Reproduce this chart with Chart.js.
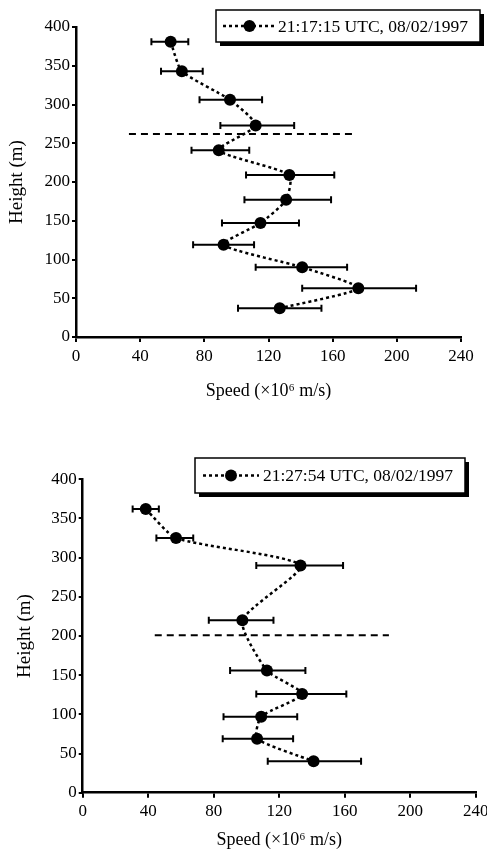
<!DOCTYPE html>
<html>
<head>
<meta charset="utf-8">
<script src="https://cdn.jsdelivr.net/npm/chart.js@4/dist/chart.umd.min.js"></script>
<style>
  html, body { margin: 0; padding: 0; background: #fff; }
  canvas { display: block; }
</style>
</head>
<body>
<canvas id="c1" width="487" height="426"></canvas>
<canvas id="c2" width="487" height="426"></canvas>
<script>
// ---------- DATA ----------
const yTickValues = [0, 50, 100, 150, 200, 250, 300, 350, 400];
const xTickValues = [0, 40, 80, 120, 160, 200, 240];
const legendLabels = ["21:17:15 UTC, 08/02/1997", "21:27:54 UTC, 08/02/1997"];
const xTitle = "Speed (\u00d710\u2076 m/s)";
const yTitle = "Height (m)";

// Chart 1 (21:17:15)
const heights1 = [381, 343, 306, 273, 241, 209, 177, 147, 119, 90, 63, 37];
const speeds1  = [59, 66, 96, 112, 89, 133, 131, 115, 92, 141, 176, 127];
const errLow1  = [47, 53, 77, 90, 72, 106, 105, 91, 73, 112, 141, 101];
const errHigh1 = [70, 79, 116, 136, 108, 161, 159, 139, 111, 169, 212, 153];
const refHeight1 = 262;
const refSpeeds1 = [33, 175];

// Chart 2 (21:27:54)
const heights2 = [362, 325, 290, 220, 156, 126, 97, 69, 40];
const speeds2  = [38.5, 57, 133, 97.5, 112.5, 134, 109, 106.5, 141];
const errLow2  = [30.5, 45, 106, 77, 90, 106, 86, 85.5, 113];
const errHigh2 = [46.5, 67.5, 159, 116.5, 136, 161, 131, 128.5, 170];
const refHeight2 = 201;
const refSpeeds2 = [44, 187];

// ---------- STYLE ----------
const FONT = '"Liberation Serif", "Times New Roman", serif';
Chart.defaults.color = '#000';
Chart.defaults.font.family = FONT;

const errorBarPlugin = {
  id: 'errorBars',
  beforeDatasetsDraw(chart, args, opts) {
    const xs = chart.scales.x, ys = chart.scales.y;
    const ctx = chart.ctx;
    ctx.save();
    ctx.strokeStyle = '#000';
    ctx.lineWidth = 2;
    ctx.setLineDash([]);
    opts.low.forEach((lo, i) => {
      const hi = opts.high[i];
      const y = ys.getPixelForValue(opts.y[i]);
      const x0 = xs.getPixelForValue(lo), x1 = xs.getPixelForValue(hi);
      ctx.beginPath();
      ctx.moveTo(x0, y); ctx.lineTo(x1, y);
      ctx.moveTo(x0, y - 3.5); ctx.lineTo(x0, y + 3.5);
      ctx.moveTo(x1, y - 3.5); ctx.lineTo(x1, y + 3.5);
      ctx.stroke();
    });
    ctx.restore();
  }
};

const boxLegendPlugin = {
  id: 'boxLegend',
  afterDraw(chart, args, o) {
    const ctx = chart.ctx;
    ctx.save();
    ctx.fillStyle = '#000';
    ctx.fillRect(o.x + 4, o.y + 4, o.w, o.h);
    ctx.fillStyle = '#fff';
    ctx.fillRect(o.x, o.y, o.w, o.h);
    ctx.strokeStyle = '#000';
    ctx.lineWidth = 1.5;
    ctx.strokeRect(o.x, o.y, o.w, o.h);
    const cy = o.y + o.h / 2;
    ctx.setLineDash([3, 3]);
    ctx.lineWidth = 2.5;
    ctx.beginPath();
    ctx.moveTo(o.lineX0, cy); ctx.lineTo(o.lineX1, cy);
    ctx.stroke();
    ctx.setLineDash([]);
    ctx.fillStyle = '#000';
    ctx.beginPath();
    ctx.arc((o.lineX0 + o.lineX1) / 2, cy, 6, 0, Math.PI * 2);
    ctx.fill();
    ctx.font = '17.5px ' + FONT;
    ctx.textBaseline = 'middle';
    ctx.textAlign = 'left';
    ctx.fillText(o.text, o.textX, cy + 1);
    ctx.restore();
  }
};

function makeChart(id, cfg) {
  return new Chart(document.getElementById(id), {
    type: 'scatter',
    data: {
      datasets: [
        {
          data: cfg.speeds.map((s, i) => ({ x: s, y: cfg.heights[i] })),
          showLine: true,
          tension: 0.2,
          borderColor: '#000',
          borderWidth: 2.5,
          borderDash: [3, 3],
          pointRadius: 6,
          pointBackgroundColor: '#000',
          pointBorderColor: '#000',
          pointBorderWidth: 0
        },
        {
          data: cfg.refSpeeds.map(s => ({ x: s, y: cfg.refHeight })),
          showLine: true,
          borderColor: '#000',
          borderWidth: 2,
          borderDash: [7, 5],
          pointRadius: 0
        }
      ]
    },
    options: {
      responsive: false,
      animation: false,
      events: [],
      layout: { padding: { left: 0, top: cfg.padTop, right: cfg.padRight, bottom: 0 } },
      plugins: {
        legend: { display: false },
        tooltip: { enabled: false },
        errorBars: { y: cfg.heights, low: cfg.low, high: cfg.high },
        boxLegend: cfg.legend
      },
      scales: {
        x: {
          type: 'linear',
          min: 0, max: 240,
          afterBuildTicks: s => { s.ticks = xTickValues.map(v => ({ value: v })); },
          afterFit: s => { s.height = cfg.xHeight; s.paddingLeft = 0; s.paddingRight = 0; },
          ticks: { font: { size: 17, family: FONT }, color: '#000', padding: 4, maxRotation: 0 },
          grid: { display: true, drawOnChartArea: false, drawTicks: true, tickLength: 5, color: '#000', lineWidth: 2 },
          border: { display: true, color: '#000', width: 2.5 },
          title: { display: true, text: xTitle, font: { size: 18, family: FONT }, color: '#000', padding: { top: 0, bottom: cfg.xTitlePad } }
        },
        y: {
          type: 'linear',
          min: 0, max: 400,
          afterBuildTicks: s => { s.ticks = yTickValues.map(v => ({ value: v })); },
          afterFit: s => { s.width = cfg.yWidth; s.paddingTop = 0; s.paddingBottom = 0; },
          ticks: { font: { size: 17, family: FONT }, color: '#000', padding: 2 },
          grid: { display: true, drawOnChartArea: false, drawTicks: true, tickLength: 4, color: '#000', lineWidth: 2 },
          border: { display: true, color: '#000', width: 2.5 },
          title: { display: true, text: yTitle, font: { size: 19, family: FONT }, color: '#000', padding: { top: cfg.yTitlePad, bottom: 0 } }
        }
      }
    },
    plugins: [errorBarPlugin, boxLegendPlugin]
  });
}

makeChart('c1', {
  heights: heights1, speeds: speeds1, low: errLow1, high: errHigh1,
  refHeight: refHeight1, refSpeeds: refSpeeds1,
  padTop: 27, padRight: 26, xHeight: 89, yWidth: 76,
  xTitlePad: 24.2, yTitlePad: 5.6,
  legend: { x: 216, y: 10, w: 264, h: 32, lineX0: 223, lineX1: 276, textX: 278, text: legendLabels[0] }
});

makeChart('c2', {
  heights: heights2, speeds: speeds2, low: errLow2, high: errHigh2,
  refHeight: refHeight2, refSpeeds: refSpeeds2,
  padTop: 53.3, padRight: 11.3, xHeight: 59.3, yWidth: 82.7,
  xTitlePad: 1.2, yTitlePad: 13.6,
  legend: { x: 195, y: 32, w: 270, h: 35, lineX0: 203, lineX1: 259, textX: 263, text: legendLabels[1] }
});
</script>
</body>
</html>
